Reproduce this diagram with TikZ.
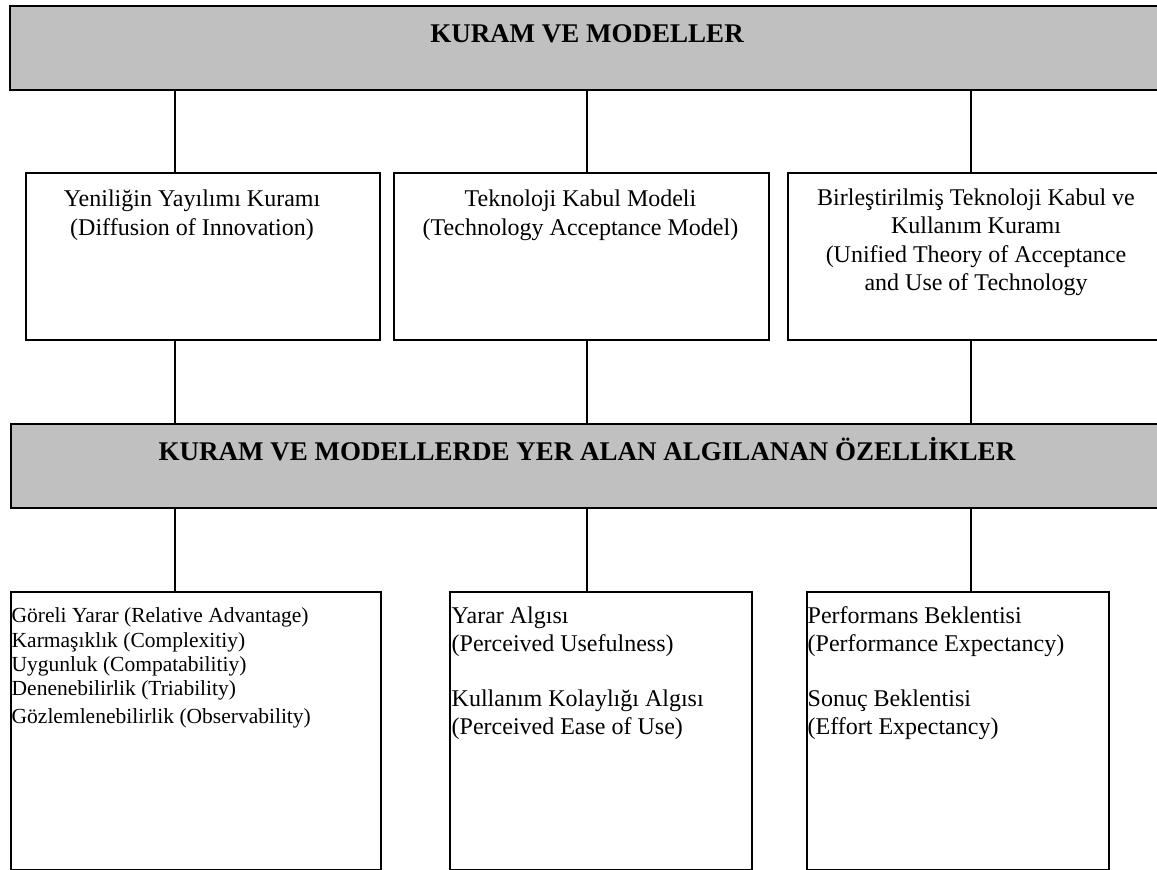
\documentclass[tikz,border=0pt]{standalone}
\usepackage{fontspec}
\setmainfont{Liberation Serif}
\definecolor{boxgray}{RGB}{192,192,192}
\begin{document}
\begin{tikzpicture}[x=1pt,y=-1pt,
  graybox/.style={draw=black, line width=2pt, fill=boxgray, rectangle, inner sep=0pt, anchor=north west},
  whitebox/.style={draw=black, line width=1.5pt, fill=white, rectangle, inner sep=0pt, anchor=north west},
  titletext/.style={inner sep=0pt, anchor=base, font=\fontsize{27}{32}\selectfont\bfseries},
  midtext/.style={inner sep=0pt, anchor=base, align=center, font=\fontsize{24}{28.5}\selectfont},
  lowtext/.style={inner sep=0pt, anchor=base west, align=left, font=\fontsize{24}{28}\selectfont},
  smalltext/.style={inner sep=0pt, anchor=base west, align=left, font=\fontsize{21.5}{24.3}\selectfont},
  link/.style={draw=black, line width=1.3pt}]
\useasboundingbox (0,0) rectangle (1157,870);

% x positions of the connectors
\coordinate (c1) at (175,0);
\coordinate (c2) at (587,0);
\coordinate (c3) at (971,0);

% gray headers
\node[graybox, minimum width=1156pt, minimum height=84pt] (top) at (9,4.5) {};
\node[graybox, minimum width=1155pt, minimum height=84pt] (mid) at (10,423) {};
\node[titletext] (toptitle) at (587,42) {KURAM VE MODELLER};
\node[titletext] (midtitle) at (587,460) {KURAM VE MODELLERDE YER ALAN ALGILANAN ÖZELLİKLER};

% middle boxes
\node[whitebox, minimum width=354pt, minimum height=167pt] (m1) at (25,172) {};
\node[whitebox, minimum width=375pt, minimum height=167pt] (m2) at (393,172) {};
\node[whitebox, minimum width=378pt, minimum height=167pt] (m3) at (787,172) {};
% anchor=base of a multi-line node is the baseline of its last line
\node[midtext] (m1t) at (192,235) {Yeniliğin Yayılımı Kuramı\\(Diffusion of Innovation)};
\node[midtext] (m2t) at (580.5,235) {Teknoloji Kabul Modeli\\(Technology Acceptance Model)};
\node[midtext] (m3t) at (976,290.5) {Birleştirilmiş Teknoloji Kabul ve\\Kullanım Kuramı\\(Unified Theory of Acceptance\\and Use of Technology};

% bottom boxes
\node[whitebox, minimum width=370pt, minimum height=278pt] (b1) at (10,591) {};
\node[whitebox, minimum width=302pt, minimum height=278pt] (b2) at (449,591) {};
\node[whitebox, minimum width=302pt, minimum height=278pt] (b3) at (806,591) {};
\node[smalltext] (b1t) at (11.5,723.5) {Göreli Yarar (Relative Advantage)\\Karmaşıklık (Complexitiy)\\Uygunluk (Compatabilitiy)\\Denenebilirlik (Triability)\\[3.5pt]Gözlemlenebilirlik (Observability)};
\node[lowtext] (b2t) at (451.5,734.5) {Yarar Algısı\\(Perceived Usefulness)\\[27pt]Kullanım Kolaylığı Algısı\\(Perceived Ease of Use)};
\node[lowtext] (b3t) at (807.5,734.5) {Performans Beklentisi\\(Performance Expectancy)\\[27pt]Sonuç Beklentisi\\(Effort Expectancy)};

% connectors
\draw[link] (top.south -| c1) -- (m1.north -| c1);
\draw[link] (top.south -| c2) -- (m2.north -| c2);
\draw[link] (top.south -| c3) -- (m3.north -| c3);
\draw[link] (m1.south -| c1) -- (mid.north -| c1);
\draw[link] (m2.south -| c2) -- (mid.north -| c2);
\draw[link] (m3.south -| c3) -- (mid.north -| c3);
\draw[link] (mid.south -| c1) -- (b1.north -| c1);
\draw[link] (mid.south -| c2) -- (b2.north -| c2);
\draw[link] (mid.south -| c3) -- (b3.north -| c3);
\end{tikzpicture}
\end{document}
